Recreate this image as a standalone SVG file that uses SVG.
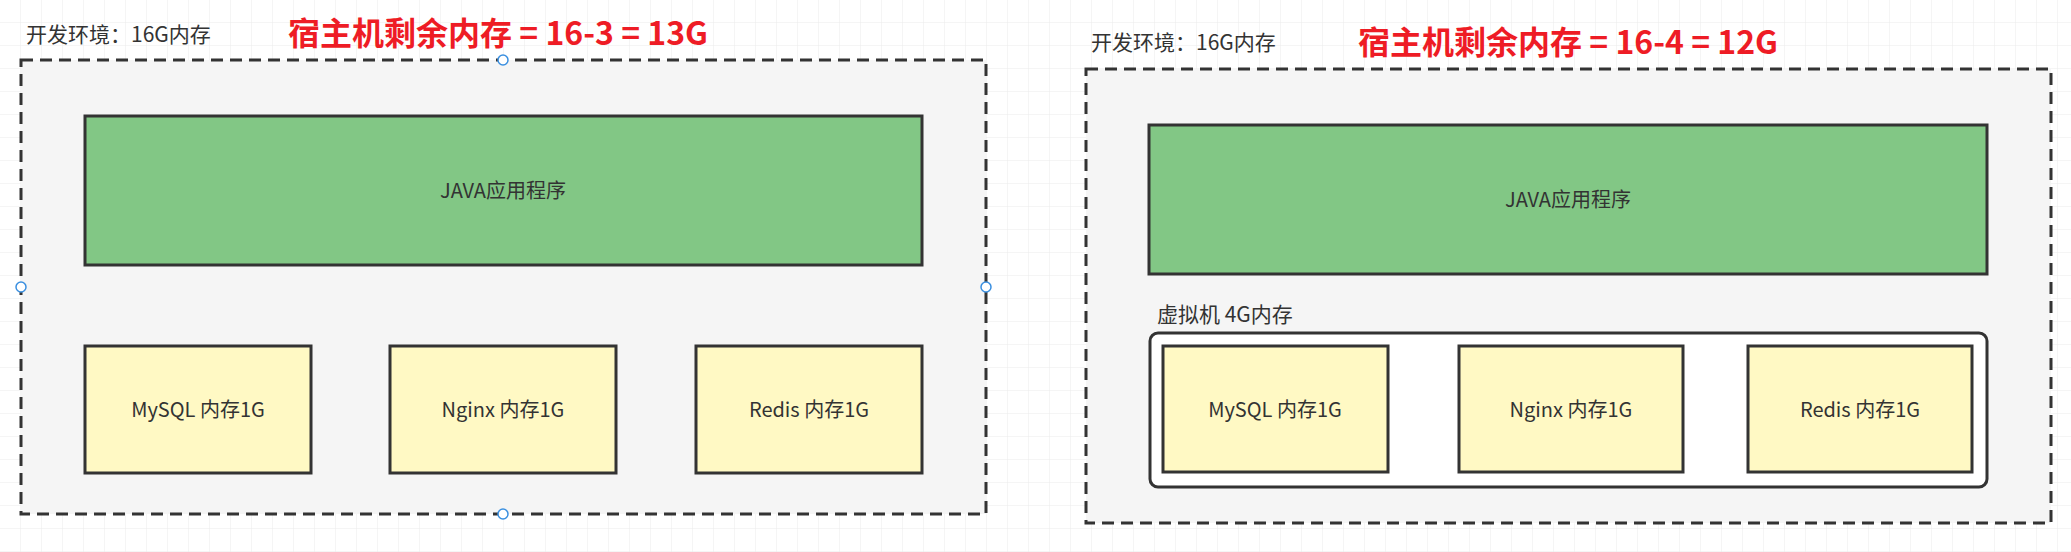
<svg xmlns="http://www.w3.org/2000/svg" width="2071" height="552" viewBox="0 0 2071 552">
<style>
text{font-family:"Noto Sans CJK SC","Liberation Sans",sans-serif;fill:#333;font-size:20px}
.t{font-size:21px}
.red{fill:#ee1c25;font-weight:bold;font-size:32px}
.outer{fill:#f5f5f5;stroke:#333;stroke-width:3;stroke-dasharray:12 7}
.java{fill:#82c785;stroke:#333;stroke-width:3}
.svc{fill:#fff9c4;stroke:#333;stroke-width:3}
.vm{fill:#fff;stroke:#333;stroke-width:3}
.h{fill:#fff;stroke:#3a8fe0;stroke-width:1.5}
</style>
<defs><pattern id="g" width="21" height="23" patternUnits="userSpaceOnUse"><path d="M21 0V23M0 23H21" fill="none" stroke="#ebebeb" stroke-width="1"/></pattern></defs>
<rect width="2071" height="552" fill="#fff"/>
<rect width="2071" height="552" fill="url(#g)"/>
<g id="left">
<text class="t" x="26" y="42">开发环境：16G内存</text>
<text class="red" x="288" y="45">宿主机剩余内存 = 16-3 = 13G</text>
<rect class="outer" x="21" y="60" width="965" height="454"/>
<g id="l-java"><rect class="java" x="85" y="116" width="837" height="149"/><text x="503" y="198" text-anchor="middle">JAVA应用程序</text></g>
<g id="l-mysql"><rect class="svc" x="85" y="346" width="226" height="127"/><text x="198" y="417" text-anchor="middle">MySQL 内存1G</text></g>
<g id="l-nginx"><rect class="svc" x="390" y="346" width="226" height="127"/><text x="503" y="417" text-anchor="middle">Nginx 内存1G</text></g>
<g id="l-redis"><rect class="svc" x="696" y="346" width="226" height="127"/><text x="809" y="417" text-anchor="middle">Redis 内存1G</text></g>
<circle class="h" cx="503" cy="60" r="5"/><circle class="h" cx="503" cy="514" r="5"/><circle class="h" cx="21" cy="287" r="5"/><circle class="h" cx="986" cy="287" r="5"/>
</g>
<g id="right">
<text class="t" x="1091" y="50">开发环境：16G内存</text>
<text class="red" x="1358" y="54">宿主机剩余内存 = 16-4 = 12G</text>
<rect class="outer" x="1086" y="69" width="965" height="454"/>
<g id="r-java"><rect class="java" x="1149" y="125" width="838" height="149"/><text x="1568" y="207" text-anchor="middle">JAVA应用程序</text></g>
<text class="t" x="1157" y="322">虚拟机 4G内存</text>
<g id="r-vm"><rect class="vm" x="1150" y="333" width="837" height="154" rx="8"/></g>
<g id="r-mysql"><rect class="svc" x="1163" y="346" width="225" height="126"/><text x="1275" y="417" text-anchor="middle">MySQL 内存1G</text></g>
<g id="r-nginx"><rect class="svc" x="1459" y="346" width="224" height="126"/><text x="1571" y="417" text-anchor="middle">Nginx 内存1G</text></g>
<g id="r-redis"><rect class="svc" x="1748" y="346" width="224" height="126"/><text x="1860" y="417" text-anchor="middle">Redis 内存1G</text></g>
</g>
<g id="connectors"/>
</svg>
